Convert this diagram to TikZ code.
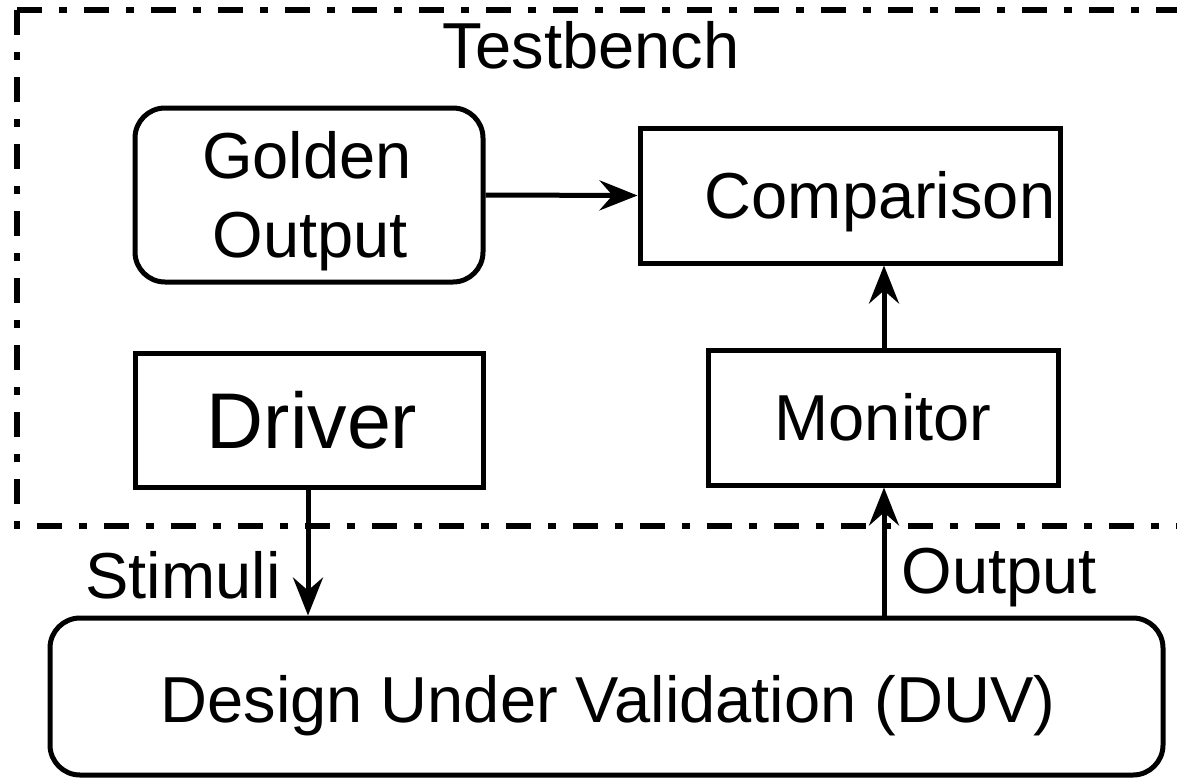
\documentclass[tikz,border=0pt]{standalone}
\usepackage{fontspec}
\setmainfont{Liberation Sans}
\usetikzlibrary{arrows.meta}
\tikzset{
  box/.style={draw, line width=5pt, inner sep=0pt},
  rbox/.style={box, rounded corners=30pt},
  lbl/.style={anchor=base, inner sep=0pt, font=\fontsize{65}{78}\selectfont},
  arr/.style={line width=5pt, -{Stealth[length=38pt,width=30pt,inset=13pt]}},
  tbline/.style={line width=6pt, dash pattern=on 25pt off 17pt on 8pt off 17pt}
}
\begin{document}
\begin{tikzpicture}[x=1pt,y=-1pt]
\useasboundingbox (0,0) rectangle (1177,780);
\clip (0,0) rectangle (1177,780);
% testbench border
\coordinate (tbc) at (17,10);
\coordinate (tbr) at (1200,10);
\coordinate (tbbl) at (17,526);
\coordinate (tbbr) at (1200,526);
\draw[tbline] (tbc) -- (tbr);
\draw[tbline] (tbc) -- (tbbl) -- (tbbr);
% boxes
\node[rbox, minimum width=348pt, minimum height=174pt] (golden) at (309,195) {};
\node[box, minimum width=420pt, minimum height=135pt] (comp) at (850,195.5) {};
\node[box, minimum width=348pt, minimum height=134pt] (driver) at (309,420) {};
\node[box, minimum width=350pt, minimum height=135pt] (monitor) at (883,417.5) {};
\node[rbox, minimum width=1113pt, minimum height=157pt] (duv) at (606.5,696.5) {};
% texts
\node[lbl] (ttb) at (591,68) {Testbench};
\node[lbl] (tgold1) at (307,178) {Golden};
\node[lbl] (tgold2) at (310,257) {Output};
\node[lbl] (tcomp) at (880,218) {Comparison};
\node[lbl, font=\fontsize{79}{90}\selectfont] (tdrv) at (312,448) {Driver};
\node[lbl] (tmon) at (883,440) {Monitor};
\node[lbl] (tstim) at (183,598) {Stimuli};
\node[lbl] (tout) at (999,593) {Output};
\node[lbl] (tduv) at (608,722) {Design Under Validation (DUV)};
% connectors
\draw[arr] (golden.east) -- (comp.west);
\draw[arr] (driver.south -| 308,0) -- (duv.north -| 308,0);
\draw[arr] (duv.north -| 884,0) -- (monitor.south -| 884,0);
\draw[arr] (monitor.north -| 884,0) -- (comp.south -| 884,0);
\end{tikzpicture}
\end{document}
